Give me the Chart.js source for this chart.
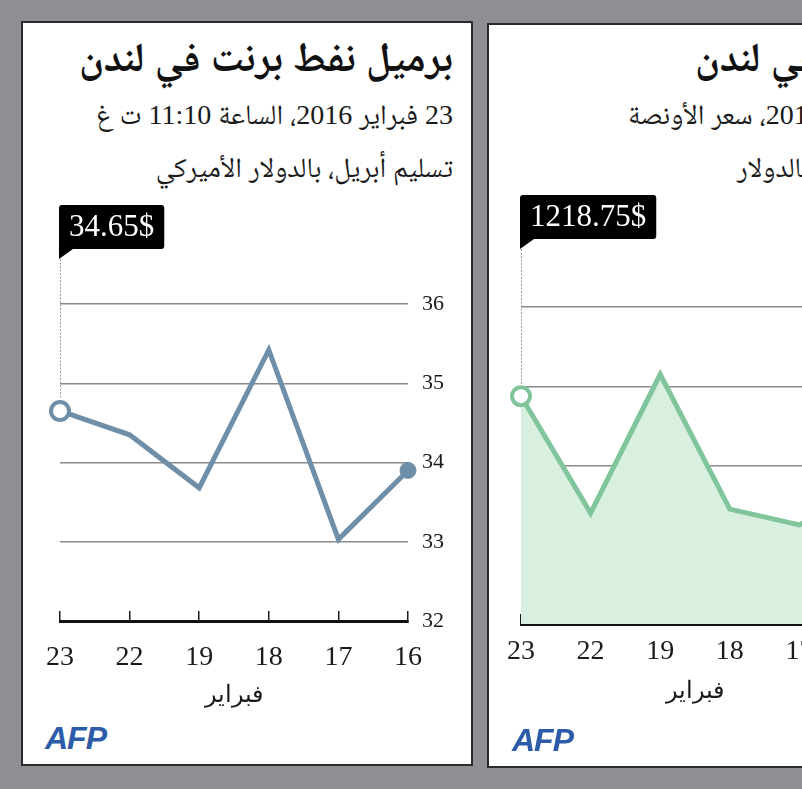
<!DOCTYPE html>
<html lang="ar">
<head>
<meta charset="UTF-8">
<title>برميل نفط برنت وأونصة الذهب في لندن</title>
<script src="https://cdn.jsdelivr.net/npm/chart.js"></script>
<style>
  html, body { margin: 0; padding: 0; }
  body {
    width: 802px; height: 789px; position: relative; overflow: hidden;
    background: #8e8f93;
    font-family: "Liberation Serif", "Noto Naskh Arabic", "Noto Sans Arabic", "DejaVu Sans", serif;
  }
  .panel {
    position: absolute; width: 448px; height: 741px;
    background: #fff; border: 2px solid #2b2b2b; overflow: hidden;
  }
  #panel-oil { left: 21px; top: 21px; }
  #panel-gold { left: 487px; top: 23px; }
  .title, .sub { position: absolute; direction: rtl; white-space: nowrap; line-height: 1; color: #111; }
  .title { font-weight: bold; font-size: 41px; }
  .sub { font-size: 28px; color: #1a1a1a; }
  .chart-box { position: absolute; width: 446px; height: 530px; }
  .afp {
    position: absolute; top: 699px;
    font-family: "Liberation Sans", Arial, sans-serif; font-weight: bold; font-style: italic;
    font-size: 32px; line-height: 1; color: #2c5ca8; letter-spacing: -1px;
  }
</style>
</head>
<body>
  <div class="panel" id="panel-oil">
    <div class="title" style="right:18px; top:14px;">برميل نفط برنت في لندن</div>
    <div class="sub" style="right:18px; top:78px;">23 فبراير 2016، الساعة 11:10 ت غ</div>
    <div class="sub" style="right:18px; top:131px;">تسليم أبريل، بالدولار الأميركي</div>
    <div class="chart-box" style="left:1px; top:167px;"><canvas id="oilChart"></canvas></div>
    <div class="afp" style="left:22px;">AFP</div>
  </div>
  <div class="panel" id="panel-gold">
    <div class="title" style="left:206px; top:12px;">أونصة الذهب في لندن</div>
    <div class="sub" style="left:139px; top:76px;">23 فبراير 2016، سعر الأونصة</div>
    <div class="sub" style="left:248px; top:129px;">عند الإغلاق، بالدولار</div>
    <div class="chart-box" style="left:-4px; top:168px;"><canvas id="goldChart"></canvas></div>
    <div class="afp" style="left:23px;">AFP</div>
  </div>

<script>
  // days of February 2016, newest first (right-to-left reading)
  const days = ['23', '22', '19', '18', '17', '16'];
  const oilPrices = [34.65, 34.35, 33.68, 35.42, 33.03, 33.90];
  const goldPrices = [1218.75, 1204.0, 1221.5, 1204.5, 1202.5, 1207.0];
  const oilTicks = [32, 33, 34, 35, 36];
  const goldTicks = [1190, 1200, 1210, 1220, 1230];
  const monthLabel = 'فبراير';

  const SERIF = '"Liberation Serif", "DejaVu Serif", serif';

  // black label box with tail + dotted leader down to the first point
  const calloutPlugin = {
    id: 'callout',
    afterDatasetsDraw(chart, args, opts) {
      const { ctx, chartArea } = chart;
      const pt = chart.getDatasetMeta(0).data[0];
      const text = chart.data.datasets[0].data[0].toFixed(2) + '$';
      ctx.save();
      ctx.font = '31px ' + SERIF;
      const w = ctx.measureText(text).width + 20;
      const h = 44;
      const x = pt.x - 1;
      const top = chartArea.top - opts.lift;
      ctx.fillStyle = '#000';
      ctx.beginPath();
      ctx.roundRect(x, top, w, h, 3);
      ctx.fill();
      ctx.beginPath();
      ctx.moveTo(x, top + h - 2);
      ctx.lineTo(x + 14, top + h);
      ctx.lineTo(x, top + h + 10);
      ctx.closePath();
      ctx.fill();
      ctx.fillStyle = '#fff';
      ctx.textBaseline = 'middle';
      ctx.fillText(text, x + 10, top + h / 2 + 1);
      ctx.strokeStyle = '#9a9a9a';
      ctx.lineWidth = 1;
      ctx.setLineDash([2, 1.5]);
      ctx.beginPath();
      ctx.moveTo(pt.x + 0.5, top + h + 10);
      ctx.lineTo(pt.x + 0.5, pt.y - 12);
      ctx.stroke();
      ctx.restore();
    }
  };

  function makeChart(id, values, ticks, color, fillColor, lift, labelPad, titlePad) {
    const n = values.length;
    return new Chart(document.getElementById(id), {
      type: 'line',
      data: {
        labels: days,
        datasets: [{
          data: values,
          borderColor: color,
          borderWidth: 5,
          borderJoinStyle: 'miter',
          tension: 0,
          fill: fillColor ? 'start' : false,
          backgroundColor: fillColor || color,
          pointRadius: values.map((v, i) => i === 0 ? 9 : (i === n - 1 ? 8 : 0)),
          pointBorderWidth: values.map((v, i) => i === 0 ? 4 : 1),
          pointBackgroundColor: values.map((v, i) => i === 0 ? '#fff' : color),
          pointBorderColor: color,
          clip: false
        }]
      },
      options: {
        responsive: true,
        maintainAspectRatio: false,
        animation: false,
        events: [],
        layout: { padding: { left: 36, top: 114, right: 0, bottom: 0 } },
        plugins: {
          legend: { display: false },
          tooltip: { enabled: false },
          callout: { lift: lift }
        },
        scales: {
          x: {
            type: 'category',
            offset: false,
            grid: { drawOnChartArea: false, drawTicks: true, tickLength: -10, color: '#1a1a1a', lineWidth: 1.5 },
            border: { display: true, color: '#111', width: 3 },
            ticks: { color: '#1a1a1a', font: { family: SERIF, size: 28 }, padding: labelPad, maxRotation: 0 },
            title: { display: true, text: monthLabel, color: '#1a1a1a', font: { family: SERIF, size: 24 }, padding: { top: 0, bottom: titlePad } },
            afterFit(scale) {
              scale.height = 99;
              scale.paddingLeft = 0;
              scale.paddingRight = 0;
            }
          },
          y: {
            position: 'right',
            min: ticks[0],
            max: ticks[ticks.length - 1],
            afterBuildTicks(scale) { scale.ticks = ticks.map(v => ({ value: v })); },
            grid: {
              drawTicks: false,
              color: ctx => ctx.tick && ctx.tick.value === ticks[0] ? 'rgba(0,0,0,0)' : '#8a8a8a',
              lineWidth: 1.5
            },
            border: { display: false },
            ticks: { color: '#1a1a1a', font: { family: SERIF, size: 22 }, padding: 14 },
            afterFit(scale) { scale.width = 62; }
          }
        }
      },
      plugins: [calloutPlugin]
    });
  }

  makeChart('oilChart', oilPrices, oilTicks, '#6f8ea8', null, 99, 30, 10);
  makeChart('goldChart', goldPrices, goldTicks, '#80c59c', '#d9efe0', 112, 21, 17);
</script>
</body>
</html>
